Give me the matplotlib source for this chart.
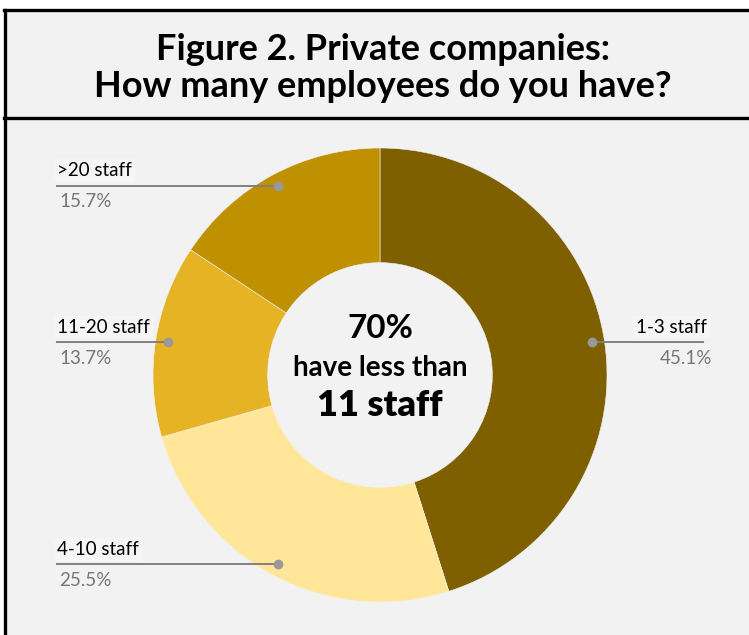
import numpy as np
import matplotlib.pyplot as plt
from matplotlib.lines import Line2D

# Datos de la encuesta
categorias = ["1-3 staff", "4-10 staff", "11-20 staff", ">20 staff"]
porcentajes = [45.1, 25.5, 13.7, 15.7]
colores = ["#7f6000", "#ffe699", "#e5b323", "#bf9000"]
titulo = "Figure 2. Private companies:\nHow many employees do you have?"

plt.rcParams['font.family'] = ['Lato', 'DejaVu Sans']

W, H = 749, 635
fig = plt.figure(figsize=(W / 100, H / 100), dpi=100)
fig.patch.set_facecolor("white")
ax = fig.add_axes([0, 0, 1, 1])

# Fondo gris y marco
ax.add_patch(plt.Rectangle((5, 0), W, H - 10, facecolor="#f2f2f2", edgecolor="none", zorder=0))
ax.add_line(Line2D([5, 5], [0, H - 10], color="black", lw=2.4))
ax.add_line(Line2D([4, W], [H - 10, H - 10], color="black", lw=2.4))
ax.add_line(Line2D([4, W], [H - 118, H - 118], color="black", lw=2.4))

ax.text(383, H - 68, titulo, ha="center", va="center", fontsize=26,
        fontweight="bold", linespacing=1.12)

# Donut
cx, cy, R = 380, H - 375, 227
wedges, _ = ax.pie(porcentajes, colors=colores, startangle=90, counterclock=False,
                   center=(cx, cy), radius=R, frame=True,
                   wedgeprops=dict(width=R * 0.505, edgecolor="#f2f2f2", linewidth=0.4))
ax.set_xlim(0, W)
ax.set_ylim(0, H)
ax.set_aspect("equal")
ax.axis("off")

# Texto central
ax.text(cx, H - 329, "70%", ha="center", va="center", fontsize=24, fontweight="bold")
ax.text(cx, H - 368, "have less than", ha="center", va="center", fontsize=20, fontweight="bold")
ax.text(cx, H - 405, "11 staff", ha="center", va="center", fontsize=26, fontweight="heavy")

# Etiquetas con lineas guia
r_punto = 215
for w, cat, pct in zip(wedges, categorias, porcentajes):
    ang = np.deg2rad((w.theta1 + w.theta2) / 2)
    px = cx + r_punto * np.cos(ang)
    py = cy + r_punto * np.sin(ang)
    if px > cx:
        xfin, ha, xt = 703, "right", 707
    else:
        xfin, ha, xt = 57, "left", 57
    ax.add_line(Line2D([px, xfin], [py, py], color="#808080", lw=1.4, zorder=5))
    ax.plot(px, py, "o", color="#999999", ms=6, zorder=6)
    ax.text(xt, py + 15, cat, ha=ha, va="center", fontsize=13.5, color="black",
            bbox=dict(facecolor="#f5f5f5", edgecolor="none", pad=2))
    ax.text(xt + (5 if ha == "right" else 2), py - 16, f"{pct}%", ha=ha, va="center",
            fontsize=13.5, color="#767676")

fig.savefig("out.png", dpi=100)
